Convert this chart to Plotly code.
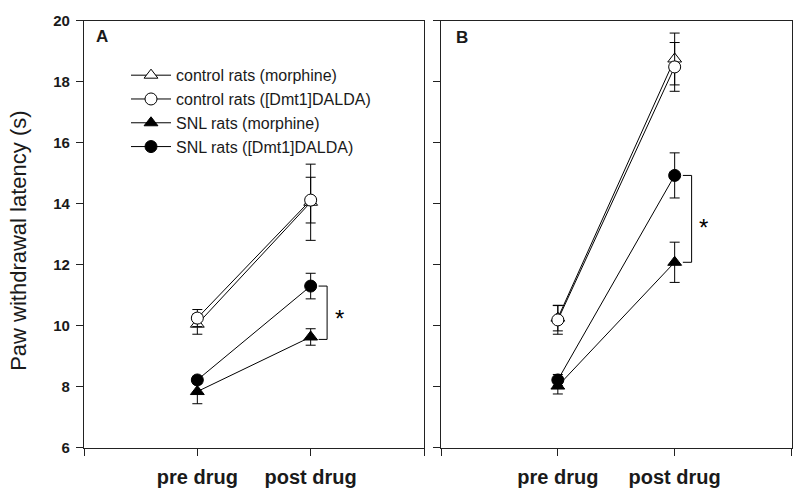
import plotly.graph_objects as go

# ---------------- data ----------------
categories = [1, 2]            # pre drug, post drug positions
tick_vals = [0, 1, 2, 3]
tick_text = ["", "pre drug", "post drug", ""]
y_ticks = [6, 8, 10, 12, 14, 16, 18, 20]

# Panel A
ctrl_morph_A = [10.05, 14.05]
ctrl_morph_A_err = [0.33, 1.25]
ctrl_dalda_A = [10.25, 14.12]
ctrl_dalda_A_err = [0.28, 0.75]
snl_morph_A = [7.84, 9.63]
snl_morph_A_err = [0.40, 0.27]
snl_dalda_A = [8.22, 11.30]
snl_dalda_A_err = [0.12, 0.42]

# Panel B
ctrl_morph_B = [10.25, 18.75]
ctrl_morph_B_err = [0.42, 0.85]
ctrl_dalda_B = [10.19, 18.49]
ctrl_dalda_B_err = [0.47, 0.80]
snl_morph_B = [8.02, 12.08]
snl_morph_B_err = [0.26, 0.66]
snl_dalda_B = [8.22, 14.93]
snl_dalda_B_err = [0.18, 0.74]

names = ["control rats (morphine)", "control rats ([Dmt1]DALDA)",
         "SNL rats (morphine)", "SNL rats ([Dmt1]DALDA)"]

W, H = 800, 502
FONT = "Arial, Liberation Sans, sans-serif"

fig = go.Figure()

def add(y, err, name, symbol, fill, xa, ya, show, rank, size):
    fig.add_trace(go.Scatter(
        x=categories, y=y, mode="lines+markers", name=name,
        xaxis=xa, yaxis=ya, showlegend=show, legendrank=rank,
        line=dict(color="black", width=1),
        marker=dict(symbol=symbol, size=size, color=fill,
                    line=dict(color="black", width=1)),
        error_y=dict(type="data", array=err, color="black",
                     thickness=1, width=5),
    ))

for xa, ya, show, data in [
    ("x", "y", True, [ctrl_morph_A, ctrl_morph_A_err, ctrl_dalda_A, ctrl_dalda_A_err,
                      snl_morph_A, snl_morph_A_err, snl_dalda_A, snl_dalda_A_err]),
    ("x2", "y2", False, [ctrl_morph_B, ctrl_morph_B_err, ctrl_dalda_B, ctrl_dalda_B_err,
                         snl_morph_B, snl_morph_B_err, snl_dalda_B, snl_dalda_B_err]),
]:
    cm, cme, cd, cde, sm, sme, sd, sde = data
    add(sm, sme, names[2], "triangle-up", "black", xa, ya, show, 3, 12)
    add(sd, sde, names[3], "circle", "black", xa, ya, show, 4, 12)
    add(cm, cme, names[0], "triangle-up", "white", xa, ya, show, 1, 12)
    add(cd, cde, names[1], "circle", "white", xa, ya, show, 2, 12)

# significance brackets (derived from post-drug means)
shapes = []
annotations = []
for xr, yr, top, bot, ys in [("x", "y", snl_dalda_A[1], snl_morph_A[1] - 0.08, -6),
                             ("x2", "y2", snl_dalda_B[1], snl_morph_B[1], -9)]:
    xb, xarm = 2.145, 2.07
    for (x0, y0, x1, y1) in [(xb, top, xb, bot), (xarm, top, xb, top), (xarm, bot, xb, bot)]:
        shapes.append(dict(type="line", xref=xr, yref=yr, x0=x0, y0=y0, x1=x1, y1=y1,
                           line=dict(color="black", width=1)))
    annotations.append(dict(x=2.25, y=(top + bot) / 2, xref=xr, yref=yr, text="*",
                            showarrow=False, yshift=ys, xanchor="center",
                            font=dict(family=FONT, size=24, color="black")))

# panel letters
annotations.append(dict(x=(102 / W), y=1 - 28.5 / H, xref="paper", yref="paper", text="<b>A</b>",
                        xanchor="center", yanchor="middle",
                        showarrow=False, font=dict(family=FONT, size=17, color="#1a1a1a")))
annotations.append(dict(x=(462 / W), y=1 - 29.5 / H, xref="paper", yref="paper", text="<b>B</b>",
                        xanchor="center", yanchor="middle",
                        showarrow=False, font=dict(family=FONT, size=17, color="#1a1a1a")))
# y-axis title
annotations.append(dict(x=19 / W, y=1 - 240 / H, xref="paper", yref="paper",
                        xanchor="center", yanchor="middle",
                        text="Paw withdrawal latency (s)", textangle=-90, showarrow=False,
                        font=dict(family=FONT, size=22, color="#1a1a1a")))

axis_common = dict(showline=True, linecolor="#222", linewidth=1.3, mirror=True,
                   showgrid=False, zeroline=False, ticks="outside", ticklen=7,
                   tickcolor="#222", tickwidth=1.2)

xfont = dict(size=20, weight="bold", family=FONT)
ydom = [(H - 454) / H, (H - 12.3) / H]
fig.update_layout(
    width=W, height=H, margin=dict(l=0, r=0, t=0, b=0),
    paper_bgcolor="white", plot_bgcolor="white",
    font=dict(family=FONT, color="#1a1a1a"),
    xaxis=dict(domain=[84 / W, 424 / W], range=[0, 3], tickvals=tick_vals, ticktext=tick_text,
               tickfont=xfont, ticklabelstandoff=4, anchor="y", **axis_common),
    yaxis=dict(domain=ydom, range=[6, 20], tickvals=y_ticks, anchor="x",
               ticklabelstandoff=3,
               tickfont=dict(size=15, weight="bold", family=FONT), **axis_common),
    xaxis2=dict(domain=[441 / W, 791.5 / W], range=[0, 3], tickvals=tick_vals, ticktext=tick_text,
                tickfont=xfont, ticklabelstandoff=4, anchor="y2", **axis_common),
    yaxis2=dict(domain=ydom, range=[6, 20], tickvals=y_ticks, showticklabels=False, anchor="x2",
                **axis_common),
    legend=dict(x=126 / W, y=1 - 51 / H, xanchor="left", yanchor="top",
                bgcolor="rgba(0,0,0,0)", font=dict(family=FONT, size=16, color="#1a1a1a"),
                tracegroupgap=0, itemwidth=40),
    shapes=shapes, annotations=annotations,
)

fig.write_html("out.html", config={"displayModeBar": False},
               post_script="document.body.style.margin='0';document.body.style.overflow='hidden';")
